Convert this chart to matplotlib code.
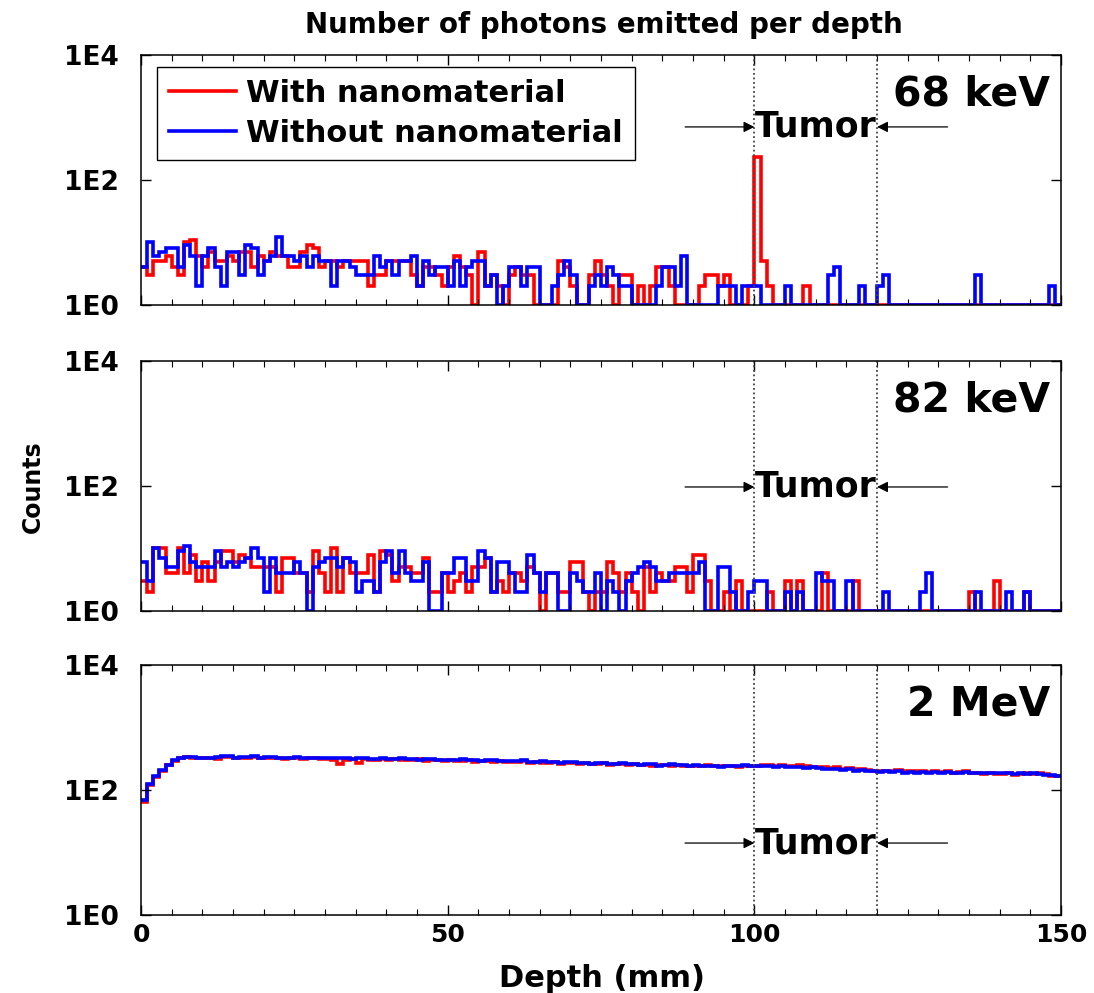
import matplotlib
matplotlib.use('Agg')
import matplotlib.pyplot as plt
import matplotlib.transforms as mtransforms
from matplotlib.ticker import MultipleLocator, FixedLocator
import numpy as np

# depth bins (mm), 1 mm wide
edges = np.arange(0, 151, 1)

# 68 keV
with_68 = [4, 3, 5, 5, 6, 4, 3, 10, 11, 6,
           4, 7, 5, 5, 6, 5, 7, 7, 4, 6,
           5, 7, 6, 6, 4, 4, 7, 9, 8, 4,
           5, 5, 4, 5, 5, 5, 5, 2, 3, 3,
           5, 5, 5, 5, 3, 2, 4, 4, 3, 2,
           4, 6, 4, 3, 1, 7, 2, 3, 2, 1,
           3, 4, 3, 3, 1, 1, 1, 1, 5, 4,
           2, 1, 1, 3, 5, 3, 2, 1, 3, 3,
           1, 2, 1, 2, 4, 4, 2, 1, 1, 1,
           1, 2, 3, 3, 2, 3, 1, 1, 1, 2,
           235, 5, 2, 1, 1, 1, 1, 1, 2, 1,
           1, 1, 1, 1, 1, 1, 1, 1, 1, 1,
           1, 1, 1, 1, 1, 1, 1, 1, 1, 1,
           1, 1, 1, 1, 1, 1, 1, 1, 1, 1,
           1, 1, 1, 1, 1, 1, 1, 1, 1, 1]
without_68 = [4, 10, 6, 7, 8, 8, 4, 9, 6, 2,
              6, 8, 4, 2, 7, 7, 3, 9, 8, 3,
              5, 6, 12, 6, 6, 5, 6, 4, 6, 5,
              5, 2, 5, 5, 4, 3, 3, 3, 6, 4,
              5, 3, 5, 5, 6, 2, 5, 3, 4, 4,
              2, 5, 2, 4, 5, 5, 2, 3, 1, 2,
              4, 4, 2, 4, 4, 1, 1, 2, 3, 5,
              3, 1, 1, 2, 3, 2, 4, 3, 2, 2,
              1, 1, 1, 1, 2, 4, 4, 2, 6, 1,
              1, 1, 1, 1, 2, 2, 2, 1, 2, 2,
              2, 1, 1, 1, 1, 2, 1, 1, 1, 1,
              1, 1, 3, 4, 1, 1, 1, 2, 1, 1,
              2, 3, 1, 1, 1, 1, 1, 1, 1, 1,
              1, 1, 1, 1, 1, 1, 3, 1, 1, 1,
              1, 1, 1, 1, 1, 1, 1, 1, 2, 1]

# 82 keV
with_82 = [3, 2, 10, 10, 4, 4, 10, 4, 8, 3,
           6, 3, 6, 9, 9, 6, 8, 7, 5, 5,
           5, 5, 2, 7, 7, 4, 4, 2, 9, 4,
           2, 10, 2, 7, 4, 4, 4, 8, 2, 9,
           8, 3, 5, 5, 4, 4, 7, 2, 2, 4,
           2, 3, 4, 2, 5, 5, 7, 2, 3, 2,
           4, 4, 3, 5, 4, 1, 4, 4, 2, 2,
           6, 6, 2, 1, 2, 2, 6, 4, 2, 4,
           2, 1, 5, 2, 4, 3, 3, 5, 5, 2,
           8, 8, 3, 1, 1, 2, 1, 3, 1, 1,
           1, 1, 2, 1, 1, 3, 1, 3, 1, 1,
           1, 4, 1, 1, 1, 1, 3, 1, 1, 1,
           1, 1, 1, 1, 1, 1, 1, 1, 1, 1,
           1, 1, 1, 1, 1, 2, 1, 1, 1, 3,
           1, 1, 1, 1, 2, 1, 1, 1, 1, 1]
without_82 = [6, 3, 10, 7, 5, 5, 9, 11, 6, 5,
              5, 5, 9, 5, 6, 5, 6, 7, 10, 7,
              2, 7, 4, 4, 4, 6, 4, 1, 5, 6,
              7, 7, 5, 7, 6, 2, 3, 3, 2, 6,
              9, 4, 9, 4, 3, 3, 6, 1, 1, 4,
              4, 7, 7, 3, 3, 9, 7, 2, 6, 6,
              4, 2, 2, 8, 4, 2, 4, 4, 1, 1,
              4, 3, 2, 2, 4, 1, 3, 2, 1, 3,
              4, 5, 6, 5, 3, 3, 4, 4, 4, 4,
              4, 6, 1, 1, 5, 5, 2, 1, 1, 2,
              3, 3, 1, 1, 1, 2, 1, 2, 1, 1,
              4, 3, 3, 1, 1, 3, 1, 1, 1, 1,
              1, 2, 1, 1, 1, 1, 1, 2, 4, 1,
              1, 1, 1, 1, 1, 1, 2, 1, 1, 1,
              1, 2, 1, 1, 2, 1, 1, 1, 1, 1]

# 2 MeV
with_2m = [65, 120, 160, 205, 250, 295, 325, 335, 330, 320,
           320, 325, 315, 340, 335, 325, 330, 320, 335, 325,
           330, 320, 325, 315, 320, 325, 315, 320, 325, 315,
           310, 300, 265, 305, 310, 270, 315, 300, 300, 310,
           305, 310, 300, 305, 300, 310, 295, 300, 305, 295,
           300, 290, 295, 300, 285, 290, 295, 285, 290, 280,
           285, 280, 290, 275, 280, 270, 275, 280, 265, 270,
           275, 265, 270, 260, 265, 270, 255, 260, 265, 255,
           260, 250, 255, 245, 250, 255, 245, 250, 240, 245,
           245, 240, 250, 245, 240, 245, 240, 235, 240, 245,
           240, 250, 255, 245, 250, 240, 245, 250, 240, 235,
           230, 235, 225, 230, 220, 225, 220, 215, 210, 205,
           200, 205, 200, 210, 205, 200, 205, 200, 195, 200,
           195, 200, 190, 195, 200, 185, 190, 180, 185, 180,
           180, 185, 175, 180, 185, 180, 185, 180, 170, 165]
without_2m = [70, 125, 165, 210, 255, 300, 330, 340, 335, 330,
              325, 330, 335, 355, 345, 330, 340, 335, 345, 330,
              340, 335, 330, 325, 330, 335, 320, 325, 330, 325,
              320, 325, 330, 320, 315, 325, 320, 315, 310, 320,
              315, 310, 320, 315, 310, 305, 315, 310, 305, 300,
              305, 300, 310, 305, 300, 295, 300, 305, 295, 290,
              295, 290, 300, 285, 280, 290, 285, 280, 275, 285,
              280, 270, 275, 265, 270, 275, 260, 265, 270, 260,
              265, 255, 260, 265, 240, 255, 260, 250, 255, 245,
              250, 245, 240, 245, 235, 240, 245, 240, 250, 245,
              245, 240, 245, 235, 240, 230, 235, 230, 225, 230,
              225, 215, 220, 215, 210, 215, 205, 210, 205, 200,
              195, 200, 195, 200, 190, 195, 190, 195, 190, 195,
              190, 195, 185, 190, 195, 185, 190, 185, 190, 185,
              185, 190, 180, 185, 180, 185, 180, 175, 175, 165]

panel_labels = ['68 keV', '82 keV', '2 MeV']
tumor_start, tumor_end = 100, 120
tumor_text_y = [0.712, 0.496, 0.288]

panels = [(with_68, without_68), (with_82, without_82), (with_2m, without_2m)]

plt.rcParams['font.family'] = 'DejaVu Sans'
plt.rcParams['font.weight'] = 'bold'

fig = plt.figure(figsize=(10.94, 9.93), dpi=100)
left, width, height = 0.1289, 0.841, 0.2518
bottoms = [0.6929, 0.3847, 0.0785]

axes = []
for i, (w, wo) in enumerate(panels):
    ax = fig.add_axes([left, bottoms[i], width, height])
    axes.append(ax)
    ax.set_yscale('log')
    ax.stairs(w, edges, baseline=None, color='#ff0000', lw=2.6, label='With nanomaterial')
    ax.stairs(wo, edges, baseline=None, color='#0000ff', lw=2.6, label='Without nanomaterial')
    ax.set_xlim(0, 150)
    ax.set_ylim(1, 1e4)
    ax.yaxis.set_major_locator(FixedLocator([1, 100, 10000]))
    ax.yaxis.set_minor_locator(FixedLocator([]))
    ax.set_yticklabels(['1E0', '1E2', '1E4'], fontsize=19, fontweight='bold')
    ax.tick_params(axis='y', pad=16)
    ax.xaxis.set_major_locator(MultipleLocator(50))
    ax.xaxis.set_minor_locator(MultipleLocator(5))
    ax.tick_params(which='both', direction='in', top=True, right=True)
    ax.tick_params(which='major', length=7, width=1)
    ax.tick_params(which='minor', length=4, width=0.8)
    for s in ax.spines.values():
        s.set_linewidth(1.1)
    if i < 2:
        ax.set_xticklabels([])
    else:
        ax.tick_params(axis='x', labelsize=18, pad=6)

    for xv in (tumor_start, tumor_end):
        ax.axvline(xv, color='#444444', ls=(0, (1, 1.5)), lw=1.3)

    trans = mtransforms.blended_transform_factory(ax.transData, ax.transAxes)
    ty = tumor_text_y[i]
    ax.annotate('', xy=(tumor_start, ty), xytext=(88.7, ty), xycoords=trans, textcoords=trans,
                arrowprops=dict(arrowstyle='-|>', color='black', lw=0.9, mutation_scale=16, shrinkA=0, shrinkB=0))
    ax.annotate('', xy=(tumor_end, ty), xytext=(131.5, ty), xycoords=trans, textcoords=trans,
                arrowprops=dict(arrowstyle='-|>', color='black', lw=0.9, mutation_scale=16, shrinkA=0, shrinkB=0))
    ax.text(110, ty, 'Tumor', transform=trans, ha='center', va='center', fontsize=25, fontweight='bold')

    ax.text(0.988, 0.84, panel_labels[i], transform=ax.transAxes, ha='right', va='center',
            fontsize=29.5, fontweight='bold')

leg = axes[0].legend(loc='upper left', bbox_to_anchor=(0.0174, 0.952), fontsize=22,
                     frameon=True, fancybox=False, edgecolor='black', framealpha=1,
                     borderaxespad=0, handlelength=2.2, handletextpad=0.3, labelspacing=0.35,
                     borderpad=0.4)
leg.get_frame().set_linewidth(1.0)
for t in leg.get_texts():
    t.set_fontweight('bold')

fig.text(0.552, 0.975, 'Number of photons emitted per depth', ha='center', va='center',
         fontsize=20, fontweight='bold')
fig.text(0.03, 0.51, 'Counts', rotation=90, ha='center', va='center', fontsize=17,
         fontweight='bold')
fig.text(0.55, 0.015, 'Depth (mm)', ha='center', va='center', fontsize=22, fontweight='bold')

fig.savefig('out.png', dpi=100, facecolor='white')
